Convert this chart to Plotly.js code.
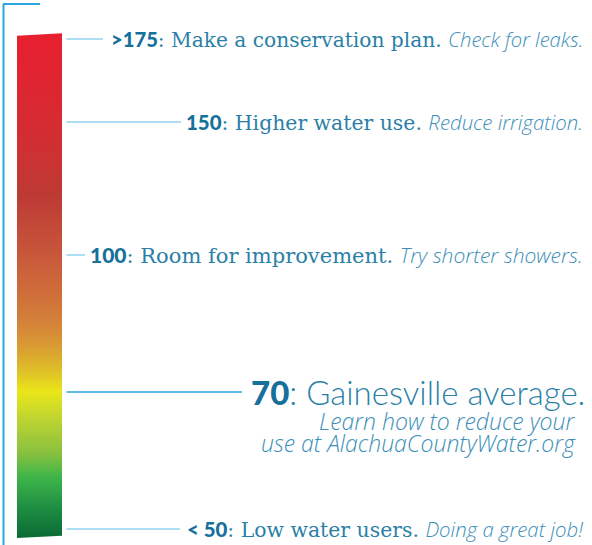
<!DOCTYPE html>
<html><head><meta charset="utf-8">
<script src="https://cdn.plot.ly/plotly-3.0.1.min.js"></script>
<style>html,body{margin:0;padding:0;background:#fff;}</style>
</head><body><div id="chart" style="width:592px;height:545px;"></div>
<script>
// Data
var levels     = ['&gt;175', '150', '100', '70', '&lt; 50'];
var levelTexts = ['Make a conservation plan.', 'Higher water use.', 'Room for improvement.', 'Gainesville average.', 'Low water users.'];
var levelTips  = ['Check for leaks.', 'Reduce irrigation.', 'Try shorter showers.', 'Learn how to reduce your|use at AlachuaCountyWater.org', 'Doing a great job!'];

// Layout positions (pixel-like units on hidden axes)
var levelY     = [39, 122, 255, 392, 529];
var lineEndX   = [103, 181, 85, 242, 180];
var textSize   = [20.2, 20.4, 21, 33, 20.4];
var tipY       = [421, 443];
var gradientStops = [
  [0.00, '#e81f2e'], [0.13, '#db2830'], [0.23, '#cf3031'], [0.32, '#bd3a34'],
  [0.42, '#c6523a'], [0.51, '#cf6c3a'], [0.57, '#d4803a'], [0.62, '#d99b33'],
  [0.67, '#dfc028'], [0.71, '#eae619'], [0.77, '#b9d233'], [0.83, '#8bc13e'],
  [0.88, '#3db54a'], [0.94, '#1f8e42'], [1.00, '#0b6a35']
];

var cBold = '#15709b', cReg = '#2a7fa7', cIt = '#3d8fb8', cLine = '#5bbde6';
var boldFont = 'font-family:Lato;font-weight:900;color:' + cBold;
var regFont  = 'font-family:DejaVu Serif;font-weight:normal;color:' + cReg;
var itFont   = 'font-family:Open Sans;font-weight:300;font-style:italic;color:' + cIt;

var traces = [{
  type: 'scatter', mode: 'lines',
  x: [17, 62, 62, 17, 17], y: [35.7, 33.3, 535.7, 538, 35.7],
  fill: 'toself', line: {width: 0, color: 'rgba(0,0,0,0)'},
  fillgradient: {type: 'vertical', start: 33, stop: 538, colorscale: gradientStops},
  hoverinfo: 'skip', showlegend: false
}];

var shapes = [
  {type: 'line', x0: 3.5, x1: 3.5, y0: 4, y1: 545, line: {color: '#2aa6df', width: 2}},
  {type: 'line', x0: 3, x1: 40, y0: 4, y1: 4, line: {color: '#2aa6df', width: 2}}
];
var annotations = [];
for (var i = 0; i < levels.length; i++) {
  shapes.push({type: 'line', x0: 66.5, x1: lineEndX[i], y0: levelY[i], y1: levelY[i],
    line: {color: i === 3 ? '#2aa6df' : cLine, width: i === 3 ? 1.5 : 1}});
  if (i === 3) {
    annotations.push({x: 586, y: levelY[i], xanchor: 'right', yanchor: 'middle', showarrow: false, borderpad: 0,
      text: '<span style="' + boldFont + '">' + levels[i] + '</span><span style="font-family:Lato;font-weight:300;color:' + cReg + '">: ' + levelTexts[i] + '</span>',
      font: {size: textSize[i], color: cReg, family: 'Lato'}});
    var tipLines = levelTips[i].split('|');
    for (var k = 0; k < tipLines.length; k++) {
      annotations.push({x: 577, y: tipY[k], xanchor: 'right', yanchor: 'middle', showarrow: false, borderpad: 0,
        text: '<span style="' + itFont + '">' + tipLines[k] + '</span>',
        font: {size: 23, color: cIt, family: 'Open Sans'}});
    }
  } else {
    annotations.push({x: 585, y: levelY[i], xanchor: 'right', yanchor: 'middle', showarrow: false,
      text: '<span style="' + boldFont + '">' + levels[i] + '</span><span style="' + regFont + '">: ' + levelTexts[i] + ' </span><span style="' + itFont + '">' + levelTips[i] + '</span>',
      font: {size: textSize[i], color: cReg, family: 'Lato'}});
  }
}

var layout = {
  width: 592, height: 545,
  margin: {l: 0, r: 0, t: 0, b: 0},
  paper_bgcolor: '#ffffff', plot_bgcolor: '#ffffff',
  xaxis: {range: [0, 592], visible: false, fixedrange: true},
  yaxis: {range: [545, 0], visible: false, fixedrange: true},
  shapes: shapes, annotations: annotations, showlegend: false
};
Plotly.newPlot('chart', traces, layout, {displayModeBar: false, staticPlot: true});
</script></body></html>
